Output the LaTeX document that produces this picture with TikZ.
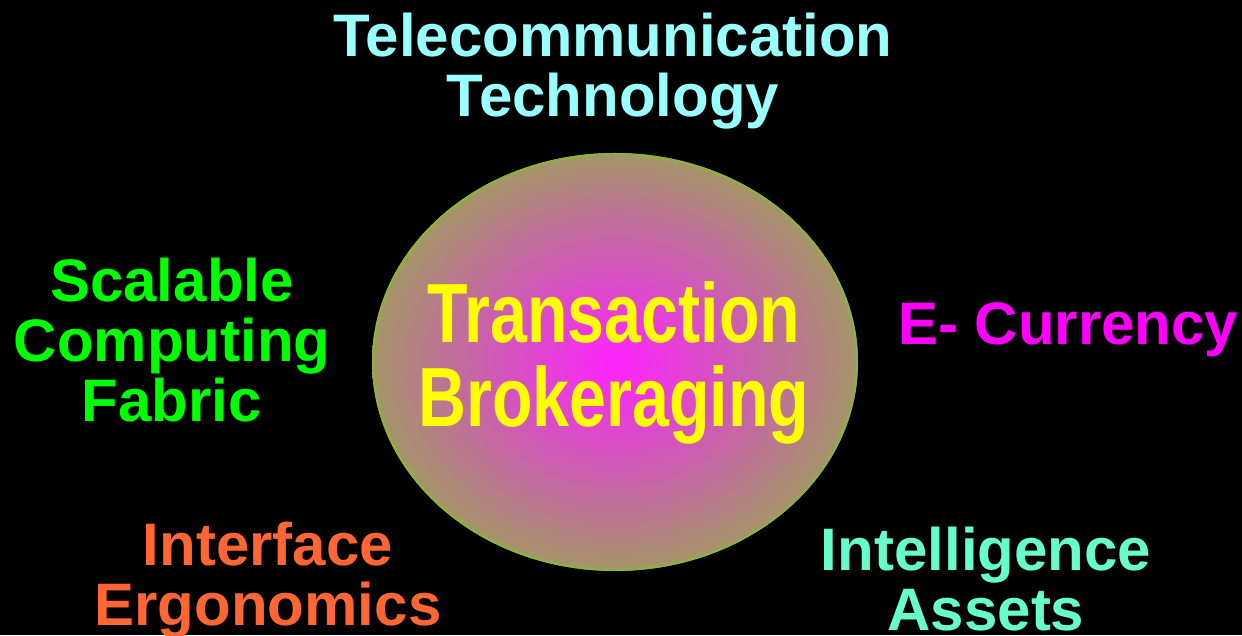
\documentclass[tikz,border=0pt]{standalone}
\usepackage{fontspec}
\setmainfont{Liberation Sans}
\newfontfamily\narrowfont{Liberation Sans}[FakeStretch=0.79]
\usepackage{tikz}
\usetikzlibrary{calc}

\definecolor{telecyan}{HTML}{99FFFF}
\definecolor{scalgreen}{HTML}{00FF00}
\definecolor{ecurmag}{HTML}{FF00FF}
\definecolor{interorange}{HTML}{FF6633}
\definecolor{intelaqua}{HTML}{66FFCC}
\definecolor{brokyellow}{HTML}{FFFF00}
\definecolor{coremag}{HTML}{FF22FF}
\definecolor{midpink}{HTML}{D058B8}
\definecolor{midtan}{HTML}{A8906E}
\definecolor{rimolive}{HTML}{8CB43C}

% edge of the ellipse sits at about 31bp of the shading
\pgfdeclareradialshading{brokerglow}{\pgfpoint{0bp}{0bp}}{%
  color(0bp)=(coremag); color(12bp)=(midpink);
  color(24bp)=(midtan); color(29.5bp)=(rimolive); color(50bp)=(rimolive)}

\tikzset{
  label/.style={inner sep=0pt, align=center, anchor=base,
    font=\fontsize{60}{60}\selectfont\bfseries},
  core/.style={inner sep=0pt, align=center, anchor=base,
    font=\narrowfont\fontsize{84}{84}\selectfont\bfseries, text=brokyellow}
}

\begin{document}
\begin{tikzpicture}[x=1pt,y=1pt]

  % --- Background ---
  \fill[black] (0,0) rectangle (1242,635);
  \useasboundingbox (0,0) rectangle (1242,635);

  % --- Central ellipse ---
  \coordinate (C) at (615,273);
  \shade[shading=brokerglow]
    (C) ellipse [x radius=243, y radius=209];
  \draw[rimolive, line width=2pt] (C) ellipse [x radius=242, y radius=208];

  % --- Centre text ---
  \node[core] (broker) at ($(C)+(-1,-65)$) {Transaction\\Brokeraging};

  % --- Surrounding fields ---
  \node[label, text=telecyan] (tele) at (613,518) {Telecommunication\\Technology};
  \node[label, text=scalgreen] (scal) at (172,213) {Scalable\\Computing\\Fabric};
  \node[label, text=ecurmag, anchor=base west] (ecur) at (898,290) {E- Currency};
  \node[label, text=interorange] (inter) at (268,10) {Interface\\Ergonomics};
  \node[label, text=intelaqua] (intel) at (986,5) {Intelligence\\Assets};

\end{tikzpicture}
\end{document}
